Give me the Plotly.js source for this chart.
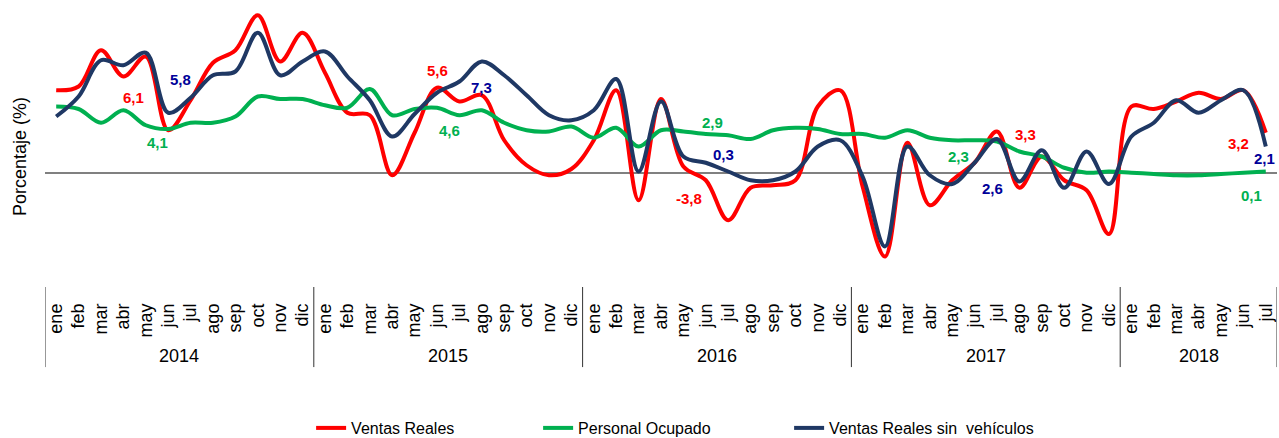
<!DOCTYPE html>
<html>
<head>
<meta charset="utf-8">
<script src="https://cdn.plot.ly/plotly-3.0.1.min.js"></script>
<style>
  html, body { margin: 0; padding: 0; background: #ffffff; }
  #chart { width: 1279px; height: 438px; }
</style>
</head>
<body>
<div id="chart"></div>
<script>
// ---- data ----
const months = ["ene","feb","mar","abr","may","jun","jul","ago","sep","oct","nov","dic"];
const years = ["2014","2015","2016","2017","2018"];
const monthsPerYear = [12, 12, 12, 12, 7];

const ventasReales = [6.6,6.9,9.8,7.7,9.3,3.4,5.8,8.8,9.8,12.6,8.9,11.2,
                      8.0,4.8,4.6,-0.2,3.2,6.8,5.7,6.2,2.6,0.6,-0.2,0.3,
                      2.6,6.6,-2.2,5.9,0.5,-0.6,-3.8,-1.2,-1.0,-0.6,5.3,6.6,
                      -1.1,-6.7,2.4,-2.6,-0.6,0.8,3.3,-1.2,1.3,-0.6,-1.4,-4.9,
                      5.3,5.1,5.7,6.4,5.9,6.6,3.2];
const personalOcupado = [5.3,5.1,4.0,5.0,3.8,3.5,4.0,4.0,4.5,6.1,5.9,5.9,
                         5.4,5.2,6.7,4.6,5.1,5.2,4.6,5.0,4.0,3.4,3.3,3.7,
                         2.8,3.6,2.1,3.4,3.3,3.1,3.0,2.7,3.4,3.6,3.5,3.1,
                         3.1,2.8,3.4,2.8,2.6,2.6,2.5,1.7,1.3,0.4,0.0,0.1,
                         0.0,-0.1,-0.2,-0.2,-0.1,0.0,0.1];
const ventasSinVehiculos = [4.5,6.1,9.0,8.6,9.6,4.8,6.0,7.8,8.1,11.2,7.8,8.9,
                            9.7,7.7,5.8,2.9,4.7,6.4,7.3,8.9,7.8,6.2,4.6,4.2,
                            5.0,7.5,0.1,5.7,1.3,0.8,0.1,-0.6,-0.6,0.1,2.1,2.6,
                            -0.3,-5.9,2.1,-0.2,-0.9,0.8,2.7,-0.7,1.8,-1.2,1.7,-0.9,
                            2.9,4.0,5.8,4.8,5.8,6.6,2.1];

// data labels: text, series, month index, value position
const labelTexts  = ["6,1","5,8","4,1","5,6","7,3","4,6","2,9","0,3","-3,8","2,3","2,6","3,3","3,2","2,1","0,1"];
const labelSeries = ["r","b","g","r","b","g","g","b","r","g","b","r","r","b","g"];
const labelX      = [3.43,5.57,4.54,17.0,19.0,17.54,29.32,29.81,28.25,40.26,41.78,43.29,52.76,54.5,53.38];
const labelY      = [6.06,7.5,2.46,8.22,6.86,3.42,4.06,1.5,-2.02,1.34,-1.22,3.1,2.38,1.18,-1.78];

// ---- build ----
const FONT = '"Liberation Sans", Arial, sans-serif';
const xIdx = [], tickText = [];
let k = 0;
years.forEach((y, yi) => {
  for (let m = 0; m < monthsPerYear[yi]; m++) { xIdx.push(k); tickText.push(months[m]); k++; }
});

const colR = '#FF0000', colG = '#00B050', colB = '#1F3864';
const labelColors = { r: '#FF0000', g: '#00B050', b: '#000099' };

const traces = [
  { x: xIdx, y: ventasReales, name: 'Ventas Reales', type: 'scatter', mode: 'lines',
    line: { color: colR, width: 4, shape: 'spline', smoothing: 1 }, legendwidth: 182 },
  { x: xIdx, y: personalOcupado, name: 'Personal Ocupado', type: 'scatter', mode: 'lines',
    line: { color: colG, width: 4, shape: 'spline', smoothing: 1 }, legendwidth: 206 },
  { x: xIdx, y: ventasSinVehiculos, name: 'Ventas Reales sin  vehículos', type: 'scatter', mode: 'lines',
    line: { color: colB, width: 4, shape: 'spline', smoothing: 1 }, legendwidth: 200 }
];

const annotations = [];
labelTexts.forEach((t, i) => {
  annotations.push({ x: labelX[i], y: labelY[i], xref: 'x', yref: 'y', text: t, showarrow: false,
    xanchor: i === 13 ? 'right' : 'center', yanchor: 'middle',
    font: { family: FONT, size: 15, color: labelColors[labelSeries[i]], weight: 'bold' } });
});

// year labels + separators
const shapes = [];
let start = 0;
years.forEach((y, yi) => {
  const n = monthsPerYear[yi];
  annotations.push({ x: start + (n - 1) / 2, y: -0.245, xref: 'x', yref: 'paper', text: y,
    showarrow: false, xanchor: 'center', yanchor: 'middle',
    font: { family: FONT, size: 18, color: '#000000' } });
  shapes.push({ type: 'line', xref: 'x', yref: 'paper', x0: start - 0.5, x1: start - 0.5,
    y0: 0, y1: -0.284, line: { color: '#333333', width: 1 } });
  start += n;
});
shapes.push({ type: 'line', xref: 'x', yref: 'paper', x0: start - 0.5, x1: start - 0.5,
  y0: 0, y1: -0.284, line: { color: '#333333', width: 1 } });

// y-axis title
annotations.push({ x: 0, y: 0.461, xref: 'paper', yref: 'paper', xshift: -25, text: 'Porcentaje (%)',
  textangle: -90, showarrow: false, xanchor: 'center', yanchor: 'middle',
  font: { family: FONT, size: 18, color: '#000000' } });

const layout = {
  width: 1279, height: 438,
  margin: { l: 45, r: 2, t: 5, b: 151, autoexpand: false },
  paper_bgcolor: '#ffffff', plot_bgcolor: '#ffffff',
  font: { family: FONT, color: '#000000' },
  showlegend: true,
  legend: { orientation: 'h', x: 0.216, xanchor: 'left', y: -0.5, yanchor: 'middle',
    font: { family: FONT, size: 16, color: '#000000' }, bgcolor: 'rgba(0,0,0,0)' },
  xaxis: { range: [-0.5, 54.5], tickmode: 'array', tickvals: xIdx, ticktext: tickText,
    tickangle: -90, ticks: '', showgrid: false, zeroline: false, showline: false,
    ticklabelstandoff: 12, automargin: false,
    tickfont: { family: FONT, size: 18, color: '#000000' } },
  yaxis: { range: [-9.14, 13.42], showticklabels: false, ticks: '', showgrid: false,
    zeroline: true, zerolinecolor: '#808080', zerolinewidth: 2, showline: false, automargin: false },
  annotations: annotations,
  shapes: shapes,
  hovermode: false
};

Plotly.newPlot('chart', traces, layout, { displayModeBar: false, staticPlot: true });
</script>
</body>
</html>
